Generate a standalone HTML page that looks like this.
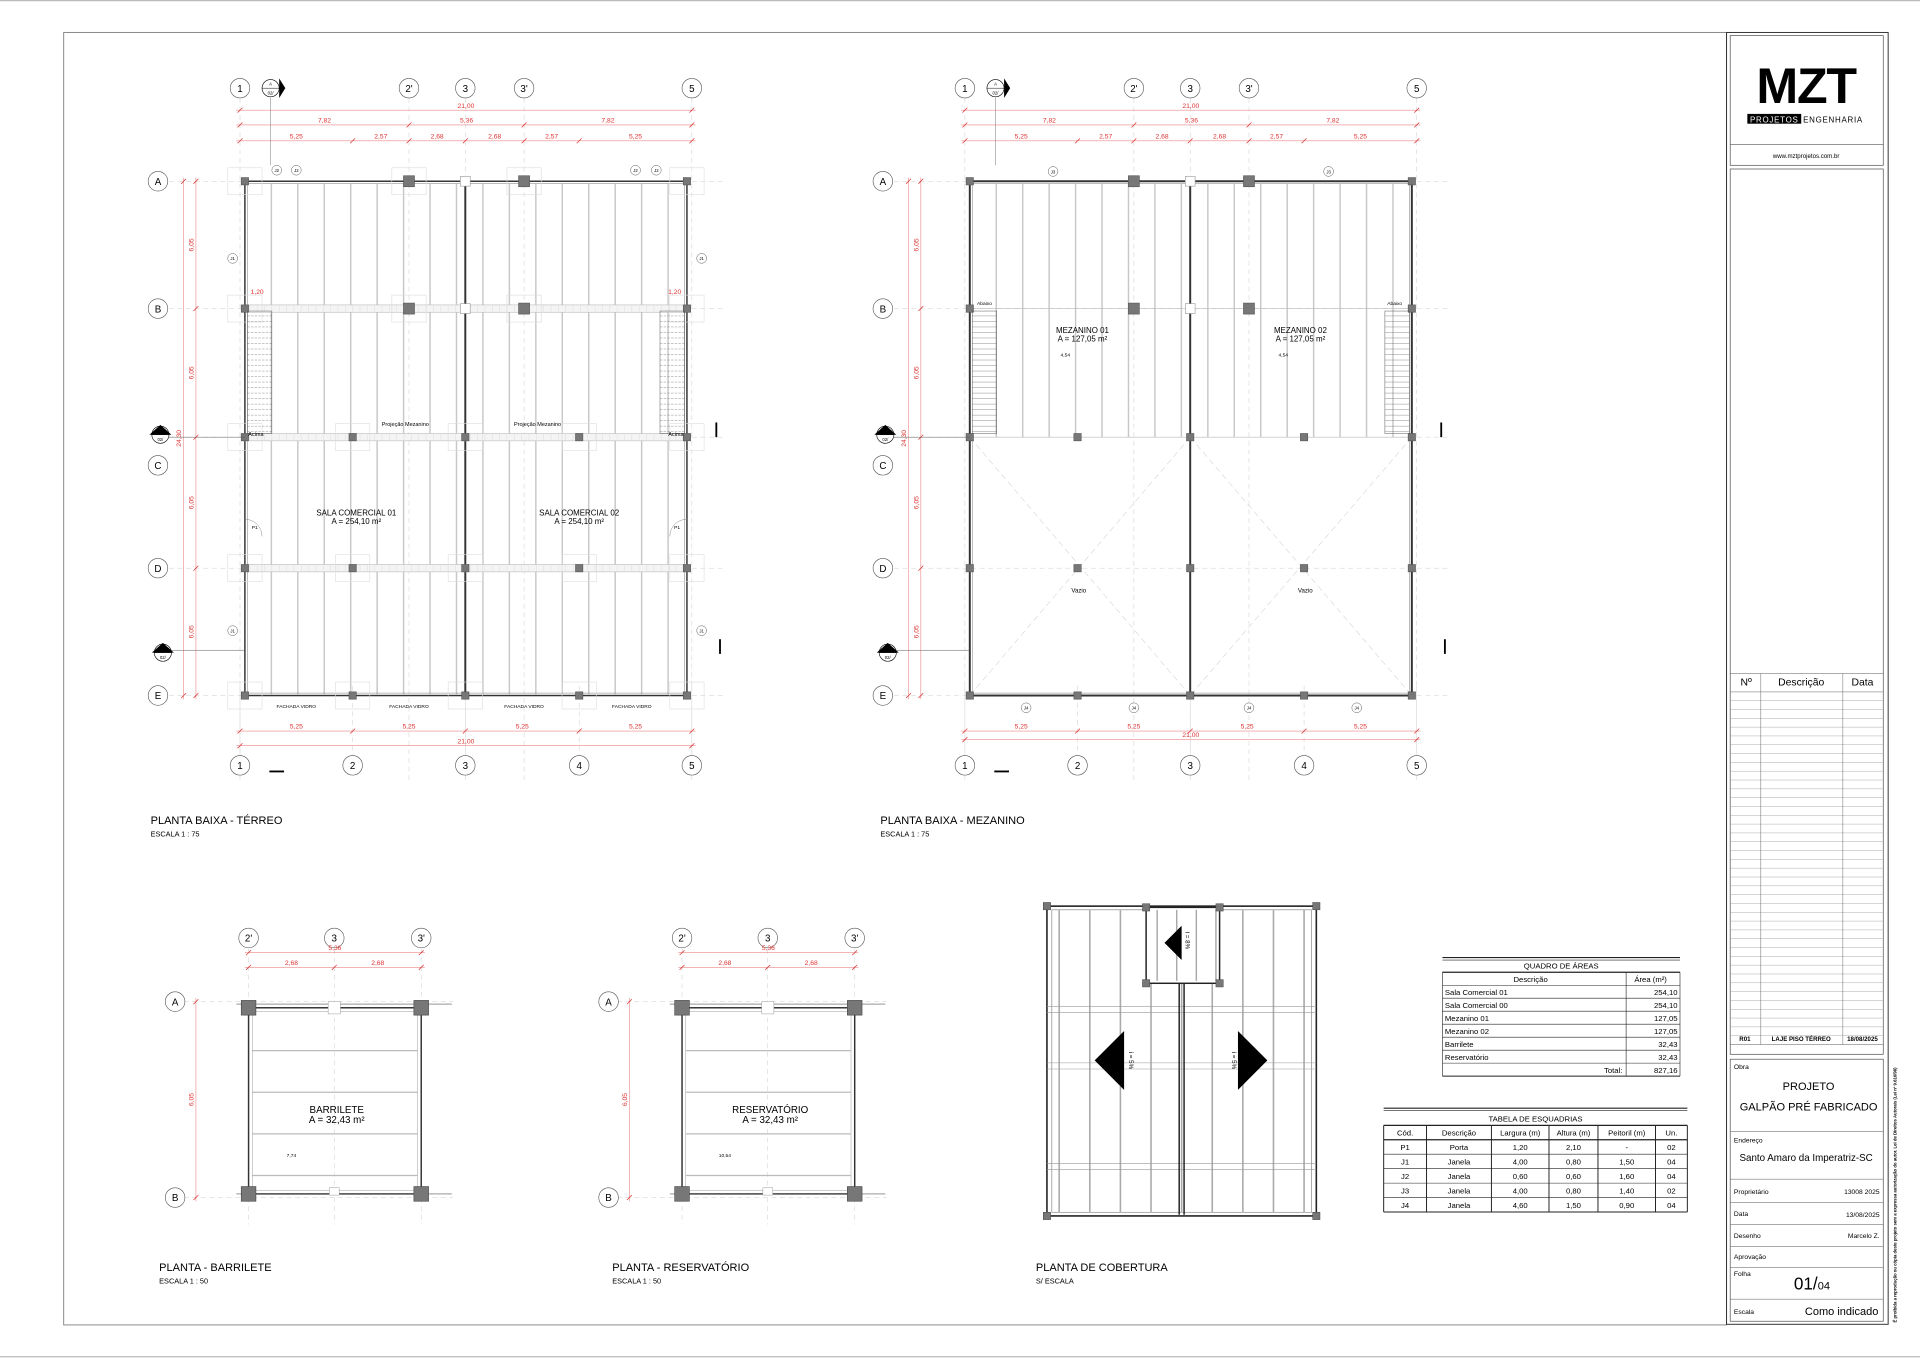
<!DOCTYPE html>
<html><head><meta charset="utf-8"><style>
html,body{margin:0;padding:0;background:#fff}
svg{display:block}
text{font-family:"Liberation Sans",sans-serif}
</style></head><body>
<svg id="s" width="1920" height="1358" viewBox="0 0 1568 1109" xmlns="http://www.w3.org/2000/svg">
<rect width="1568" height="1109" fill="#fff"/>
<line x1="0" y1="0.5" x2="1568" y2="0.5" stroke="#bbb" stroke-width="1"/>
<line x1="0" y1="1108" x2="1568" y2="1108" stroke="#bbb" stroke-width="1"/>
<rect x="52" y="26.5" width="1358" height="1055.5" fill="none" stroke="#888" stroke-width="0.8"/>
<!-- title block -->
<rect x="1410" y="26.5" width="132" height="1055" fill="none" stroke="#333" stroke-width="0.8"/>
<rect x="1413" y="29" width="125" height="106" fill="none" stroke="#555" stroke-width="0.6"/>
<line x1="1413" y1="118" x2="1538" y2="118" stroke="#555" stroke-width="0.5"/>
<text x="1475" y="84" font-size="41" font-weight="bold" text-anchor="middle" letter-spacing="-1">MZT</text>
<rect x="1427" y="93" width="44" height="8" fill="#000"/>
<text x="1449" y="100" font-size="6.5" fill="#fff" text-anchor="middle" letter-spacing="0.6">PROJETOS</text>
<text x="1497" y="100" font-size="6.5" text-anchor="middle" letter-spacing="0.6">ENGENHARIA</text>
<text x="1475" y="129" font-size="5" text-anchor="middle">www.mztprojetos.com.br</text>
<rect x="1413" y="138" width="125" height="723" fill="none" stroke="#555" stroke-width="0.6"/>
<g id="rev"></g>
<rect x="1413" y="865" width="125" height="214" fill="none" stroke="#555" stroke-width="0.6"/>
<g font-size="5.5" id="tb">
<text x="1416" y="873">Obra</text>
<text x="1477" y="890" font-size="9" text-anchor="middle">PROJETO</text>
<text x="1477" y="907" font-size="9" text-anchor="middle">GALPÃO PRÉ FABRICADO</text>
<line x1="1413" y1="924" x2="1538" y2="924" stroke="#777" stroke-width="0.5"/>
<text x="1416" y="933">Endereço</text>
<text x="1475" y="948" font-size="8" text-anchor="middle">Santo Amaro da Imperatriz-SC</text>
<line x1="1413" y1="963" x2="1538" y2="963" stroke="#777" stroke-width="0.5"/>
<text x="1416" y="975">Proprietário</text><text x="1535" y="975" text-anchor="end">13008 2025</text>
<line x1="1413" y1="982" x2="1538" y2="982" stroke="#777" stroke-width="0.5"/>
<text x="1416" y="993">Data</text><text x="1535" y="994" text-anchor="end">13/08/2025</text>
<line x1="1413" y1="1000" x2="1538" y2="1000" stroke="#777" stroke-width="0.5"/>
<text x="1416" y="1011">Desenho</text><text x="1535" y="1011" text-anchor="end">Marcelo Z.</text>
<line x1="1413" y1="1018" x2="1538" y2="1018" stroke="#777" stroke-width="0.5"/>
<text x="1416" y="1028">Aprovação</text>
<line x1="1413" y1="1035" x2="1538" y2="1035" stroke="#777" stroke-width="0.5"/>
<text x="1416" y="1042">Folha</text>
<text x="1465" y="1053" font-size="14">01/<tspan font-size="9">04</tspan></text>
<line x1="1413" y1="1061" x2="1538" y2="1061" stroke="#777" stroke-width="0.5"/>
<text x="1416" y="1073">Escala</text><text x="1534" y="1074" font-size="9" text-anchor="end">Como indicado</text>
</g>
<text transform="translate(1549,1080) rotate(-90)" font-size="3.5" font-weight="bold">É proibida a reprodução ou cópia deste projeto sem a expressa autorização do autor. Lei de Direitos Autorais (Lei nº 9.610/98)</text>
<g id="draw"></g>
<g font-size="9">
<text x="123" y="673">PLANTA BAIXA - TÉRREO</text><text x="123" y="683" font-size="6">ESCALA 1 : 75</text>
<text x="719" y="673">PLANTA BAIXA - MEZANINO</text><text x="719" y="683" font-size="6">ESCALA 1 : 75</text>
<text x="130" y="1038">PLANTA - BARRILETE</text><text x="130" y="1048" font-size="6">ESCALA 1 : 50</text>
<text x="500" y="1038">PLANTA - RESERVATÓRIO</text><text x="500" y="1048" font-size="6">ESCALA 1 : 50</text>
<text x="846" y="1038">PLANTA DE COBERTURA</text><text x="846" y="1048" font-size="6">S/ ESCALA</text>
</g>
<g id="tables" font-size="6.5"></g>
</svg>
<script>
const NS="http://www.w3.org/2000/svg";
function el(p,t,a,txt){const e=document.createElementNS(NS,t);for(const k in a)e.setAttribute(k,a[k]);if(txt!==undefined)e.textContent=txt;p.appendChild(e);return e;}
const D=document.getElementById('draw');
const L=(x1,y1,x2,y2,c,w,da)=>el(D,'line',{x1,y1,x2,y2,stroke:c||'#000','stroke-width':w||0.5,'stroke-dasharray':da||'none'});
const R=(x,y,w,h,f,s,sw)=>el(D,'rect',{x,y,width:w,height:h,fill:f||'none',stroke:s||'none','stroke-width':sw||0.5});
const T=(x,y,s,fs,o)=>el(D,'text',Object.assign({x,y,'font-size':fs||6,'text-anchor':'middle'},o||{}),s);
const bub=(x,y,s,r)=>{el(D,'circle',{cx:x,cy:y,r:r||8,fill:'#fff',stroke:'#555','stroke-width':0.5});T(x,y+3,s,8);};
const red='#d33';
function hdim(y,xs,labels){L(xs[0]-3,y,xs[xs.length-1]+3,y,'#e88',0.5);xs.forEach(x=>{L(x-2,y+2,x+2,y-2,red,0.6);});for(let i=0;i<labels.length;i++)T((xs[i]+xs[i+1])/2,y-2,labels[i],5.5,{fill:red});}
function vdim(x,ys,labels){L(x,ys[0]-3,x,ys[ys.length-1]+3,'#e88',0.5);ys.forEach(y=>L(x-2,y+2,x+2,y-2,red,0.6));for(let i=0;i<labels.length;i++){const yy=(ys[i]+ys[i+1])/2;el(D,'text',{x:0,y:0,'font-size':5.5,fill:red,'text-anchor':'middle',transform:`translate(${x-2},${yy}) rotate(-90)`},labels[i]);}}
function plan(ox,mez){
 const X=[196,288,380,473,565].map(v=>v+ox), Xt=[196,334,380,428,565].map(v=>v+ox);
 const Y=[148,252,357,464,568];
 Xt.forEach(x=>L(x,80,x,640,'#ccc',0.4,'4 3'));X.forEach(x=>L(x,560,x,620,'#ccc',0.4,'4 3'));
 Y.forEach(y=>L(138,y,590,y,'#ccc',0.4,'4 3').setAttribute('transform',`translate(${ox},0)`));
 ['1',"2'",'3',"3'",'5'].forEach((s,i)=>bub(Xt[i],72,s));
 ['1','2','3','4','5'].forEach((s,i)=>bub(X[i],625,s));
 ['A','B','C','D','E'].forEach((s,i)=>bub(129+ox,i==2?380:Y[i],s));
 hdim(90,[X[0],X[4]],['21,00']);
 hdim(102,[X[0],Xt[1],Xt[3],X[4]],['7,82','5,36','7,82']);
 hdim(115,[X[0],X[1],Xt[1],Xt[2],Xt[3],X[3],X[4]],['5,25','2,57','2,68','2,68','2,57','5,25']);
 hdim(597,X,['5,25','5,25','5,25','5,25']);
 hdim(mez?604:609,[X[0],X[4]],['21,00']);
 vdim(150+ox,[Y[0],Y[4]],['24,30']);
 vdim(160+ox,Y,['6,05','6,05','6,05','6,05']);
 const top=150, bot=mez?357:567;
 for(let i=1;i<17;i++){const x=X[0]+4+i*21.6;L(x,top,x,bot,'#c8c8c8',1.2);}
 R(X[0]+4,148,361,420,'none','#333',mez?1.6:1.2);
 R(X[0]+6,150,357,416,'none','#777',0.4);
 L(X[2],148,X[2],568,'#333',1.6);
 if(!mez){[252,357,464].forEach(y=>{R(X[0]+4,y-3,361,6,'#f4f4f4','#bbb',0.5);for(let x=X[0]+8;x<X[4];x+=6)L(x,y-3,x,y+3,'#ddd',0.4);});}
 else{[252,357].forEach(y=>L(X[0]+4,y,X[4]-4,y,'#bbb',0.5));
  [[X[0]+4,X[2]],[X[2],X[4]-4]].forEach(([a,b])=>{L(a,357,b,568,'#bbb',0.4,'5 3');L(b,357,a,568,'#bbb',0.4,'5 3');});}
 const P=[[X[0]+4,148],[Xt[1],148],[Xt[3],148],[X[4]-4,148],[X[0]+4,252],[Xt[1],252],[Xt[3],252],[X[4]-4,252],
   [X[0]+4,357],[X[1],357],[X[3],357],[X[4]-4,357],[X[0]+4,464],[X[1],464],[X[3],464],[X[4]-4,464],
   [X[0]+4,568],[X[1],568],[X[3],568],[X[4]-4,568],[X[2],357],[X[2],464],[X[2],568]];
 P.forEach(([x,y])=>{const big=(y==148||y==252)&&(x==Xt[1]||x==Xt[3]);const s=big?9:6;if(!mez)R(x-14,y-11,28,22,'none','#ddd',0.5);R(x-s/2,y-s/2,s,s,'#777','#555',0.5);});
 R(X[2]-4,144,8,8,'#fff','#999',0.5);R(X[2]-4,248,8,8,'#fff','#999',0.5);
 [[X[0]+6,X[0]+26],[X[4]-26,X[4]-6]].forEach(([a,b])=>{R(a,254,b-a,100,'none','#555',0.4);for(let y=258;y<354;y+=4.5)L(a,y,b,y,'#666',0.3,mez?'none':'2 1');});
 if(!mez){
  T(X[0]+13,356,'Acima',4.5);T(X[4]-13,356,'Acima',4.5);
  T(X[0]+14,240,'1,20',5.5,{fill:red});T(X[4]-14,240,'1,20',5.5,{fill:red});
  T(X[1]+43,348,'Projeção Mezanino',4.5);T(X[3]-34,348,'Projeção Mezanino',4.5);
  T(291+ox,421,'SALA COMERCIAL 01',6.5);T(291+ox,428,'A = 254,10 m²',6.5);
  T(473+ox,421,'SALA COMERCIAL 02',6.5);T(473+ox,428,'A = 254,10 m²',6.5);
  [242,334,428,516].forEach(x=>T(x+ox,578,'FACHADA VIDRO',4));
  [[226,139,'J2'],[242,139,'J2'],[519,139,'J2'],[536,139,'J2'],[190,211,'J1'],[573,211,'J1'],[190,515,'J1'],[573,515,'J1']].forEach(([x,y,s])=>{el(D,'circle',{cx:x+ox,cy:y,r:4,fill:'#fff',stroke:'#555','stroke-width':0.4});T(x+ox,y+1.5,s,3.5);});
  el(D,'path',{d:`M${X[0]+4} 424 a14 14 0 0 1 14 14`,fill:'none',stroke:'#888','stroke-width':0.4});
  T(X[0]+12,432,'P1',4);T(X[4]-12,432,'P1',4);
  el(D,'path',{d:`M${X[4]-4} 424 a14 14 0 0 0 -14 14`,fill:'none',stroke:'#888','stroke-width':0.4});
 } else {
  T(X[0]+16,249,'Abaixo',4);T(X[4]-18,249,'Abaixo',4);
  T(884+ox-592,272,'MEZANINO 01',6.5);T(884+ox-592,279,'A = 127,05 m²',6.5);
  T(1062+ox-592,272,'MEZANINO 02',6.5);T(1062+ox-592,279,'A = 127,05 m²',6.5);
  T(881+ox-592,484,'Vazio',5);T(1066+ox-592,484,'Vazio',5);
  T(870+ox-592,291,'4,54',4);T(1048+ox-592,291,'4,54',4);
  [[860,140,'J3'],[1085,140,'J3'],[838,578,'J4'],[926,578,'J4'],[1020,578,'J4'],[1108,578,'J4']].forEach(([x,y,s])=>{el(D,'circle',{cx:x+ox-592,cy:y,r:4,fill:'#fff',stroke:'#555','stroke-width':0.4});T(x+ox-592,y+1.5,s,3.5);});
 }
 const sec=(x,y,lab)=>{el(D,'circle',{cx:x,cy:y,r:7,fill:'#fff',stroke:'#000','stroke-width':0.5});L(x-7,y,x+7,y,'#000',0.4);T(x,y-2,lab,3.5);T(x,y+5,'02/',3.5);};
 sec(221+ox,72,'A');el(D,'path',{d:`M${228+ox} 64 l5 8 l-5 8 z`,fill:'#000'});L(221+ox,79,221+ox,135,'#777',0.4);
 sec(131+ox,355,'C');el(D,'path',{d:`M${122+ox} 355 l9 -8 l9 8 z`,fill:'#000'});L(138+ox,357,200+ox,357,'#555',0.4);L(585+ox,345,585+ox,357,'#000',1.5);
 sec(133+ox,533,'B');el(D,'path',{d:`M${124+ox} 533 l9 -8 l9 8 z`,fill:'#000'});L(140+ox,531,200+ox,531,'#555',0.4);L(588+ox,522,588+ox,534,'#000',1.5);
 L(220+ox,630,232+ox,630,'#000',1.5);
}
plan(0,false);plan(592,true);
function small(ox,lab1,lab2,lv){
 const X=[203,273,344].map(v=>v+ox);
 X.forEach(x=>L(x,775,x,1000,'#ccc',0.4,'4 3'));[818,978].forEach(y=>L(150+ox,y,370+ox,y,'#ccc',0.4,'4 3'));
 ["2'",'3',"3'"].forEach((s,i)=>bub(X[i],766,s));bub(143+ox,818,'A');bub(143+ox,978,'B');
 hdim(778,[X[0],X[2]],['5,36']);hdim(790,X,['2,68','2,68']);vdim(160+ox,[818,978],['6,05']);
 R(X[0],823,X[2]-X[0],152,'none','#333',1.2);R(X[0]+3,826,X[2]-X[0]-6,146,'none','#999',0.4);
 [858,892,926,960].forEach(y=>L(X[0]+3,y,X[2]-3,y,'#bbb',1));
 L(X[0]-10,820,X[2]+25,820,'#555',0.5);L(X[0]-10,975,X[2]+25,975,'#555',0.5);
 [[X[0],823],[X[2],823],[X[0],975],[X[2],975]].forEach(([x,y])=>R(x-6,y-6,12,12,'#777','#444',0.5));
 R(X[1]-5,818,10,10,'#fff','#999',0.4);R(X[1]-4,970,8,6,'#fff','#999',0.4);
 T(X[1]+2,909,lab1,8);T(X[1]+2,917,lab2,8);T(X[0]+35,945,lv,4);
}
small(0,'BARRILETE','A = 32,43 m²','7,74');small(354,'RESERVATÓRIO','A = 32,43 m²','10,54');
(function(){const x0=855,x1=1075,y0=740,y1=993;
 R(x0,y0,x1-x0,y1-y0,'none','#222',1.3);R(x0+4,y0+3,x1-x0-8,y1-y0-6,'none','#777',0.5);
 for(let x=x0+10;x<x1-5;x+=25){L(x,y0+3,x,y1-3,'#aaa',1.3);}
 [822,868,950].forEach(y=>{L(x0,y,x1,y,'#999',0.5);L(x0,y+5,x1,y+5,'#999',0.5);});
 R(936,741,60,62,'#fff','#222',1.2);for(let x=945;x<995;x+=16)L(x,743,x,801,'#aaa',1.2);
 L(963,803,963,992,'#222',1.2);L(967,803,967,992,'#222',1.2);
 el(D,'path',{d:'M951 770 l14 -14 v28z',fill:'#000'});el(D,'path',{d:'M894 866 l24 -24 v48z',fill:'#000'});el(D,'path',{d:'M1035 866 l-24 -24 v48z',fill:'#000'});
 el(D,'text',{'font-size':5,transform:'translate(968,768) rotate(90)','text-anchor':'middle'},'i = 8%');
 el(D,'text',{'font-size':5,transform:'translate(922,866) rotate(90)','text-anchor':'middle'},'i = 5%');
 el(D,'text',{'font-size':5,transform:'translate(1006,866) rotate(90)','text-anchor':'middle'},'i = 5%');
 [[x0,y0],[x1,y0],[x0,y1],[x1,y1],[936,741],[996,741],[936,803],[996,803]].forEach(([x,y])=>R(x-3,y-3,6,6,'#777','#444',0.4));
})();
const TB=document.getElementById('tables');
const tl=(x1,y1,x2,y2,w)=>el(TB,'line',{x1,y1,x2,y2,stroke:'#222','stroke-width':w||0.5});
const tt=(x,y,s,a)=>el(TB,'text',{x,y,'text-anchor':a||'start','font-size':6.3},s);
(function(){const x0=1178,x1=1372,xc=1328;tl(x0,782,x1,782,1);tl(x0,784,x1,784,0.5);tt(1275,791,'QUADRO DE ÁREAS','middle');
 const rows=[['Descrição','Área (m²)'],['Sala Comercial 01','254,10'],['Sala Comercial 00','254,10'],['Mezanino 01','127,05'],['Mezanino 02','127,05'],['Barrilete','32,43'],['Reservatório','32,43'],['Total:','827,16']];
 let y=794;rows.forEach((r,i)=>{tl(x0,y,x1,y,i==0?1:0.5);const by=y+8;if(i==0){tt(1250,by,r[0],'middle');tt(1348,by,r[1],'middle');}else if(i==7){tt(xc-3,by,r[0],'end');tt(x1-2,by,r[1],'end');}else{tt(x0+2,by,r[0]);tt(x1-2,by,r[1],'end');}y+=10.6;});
 tl(x0,y,x1,y,0.8);tl(x0,794,x0,y);tl(x1,794,x1,y);tl(xc,794,xc,y);})();
(function(){const x0=1130,x1=1378;tl(x0,905,x1,905,1);tl(x0,907,x1,907,0.5);tt(1254,916,'TABELA DE ESQUADRIAS','middle');
 const cols=[1130,1165,1218,1265,1305,1352,1378];
 const rows=[['Cód.','Descrição','Largura (m)','Altura (m)','Peitoril (m)','Un.'],['P1','Porta','1,20','2,10','-','02'],['J1','Janela','4,00','0,80','1,50','04'],['J2','Janela','0,60','0,60','1,60','04'],['J3','Janela','4,00','0,80','1,40','02'],['J4','Janela','4,60','1,50','0,90','04']];
 let y=919;rows.forEach((r,i)=>{tl(x0,y,x1,y,i<2?1:0.5);r.forEach((s,j)=>tt((cols[j]+cols[j+1])/2,y+8.5,s,'middle'));y+=11.8;});
 tl(x0,y,x1,y,0.8);cols.forEach(c=>tl(c,919,c,y,0.8));})();
const RV=document.getElementById('rev');
const rl=(x1,y1,x2,y2,c)=>el(RV,'line',{x1,y1,x2,y2,stroke:c||'#888','stroke-width':0.4});
el(RV,'text',{x:1426,y:560,'font-size':8.5,'text-anchor':'middle'},'Nº');
el(RV,'text',{x:1471,y:560,'font-size':8.5,'text-anchor':'middle'},'Descrição');
el(RV,'text',{x:1521,y:560,'font-size':8.5,'text-anchor':'middle'},'Data');
rl(1413,550,1538,550,'#555');rl(1413,565,1538,565,'#333');
for(let y=565;y<=853;y+=7.2)rl(1413,y,1538,y,'#aaa');
[1438,1505].forEach(x=>rl(x,550,x,853,'#666'));rl(1413,853,1538,853,'#555');
el(RV,'text',{x:1425,y:850,'font-size':5,'text-anchor':'middle','font-weight':'bold'},'R01');
el(RV,'text',{x:1471,y:850,'font-size':5,'text-anchor':'middle','font-weight':'bold'},'LAJE PISO TÉRREO');
el(RV,'text',{x:1521,y:850,'font-size':5,'text-anchor':'middle','font-weight':'bold'},'18/08/2025');
</script>
</body></html>
